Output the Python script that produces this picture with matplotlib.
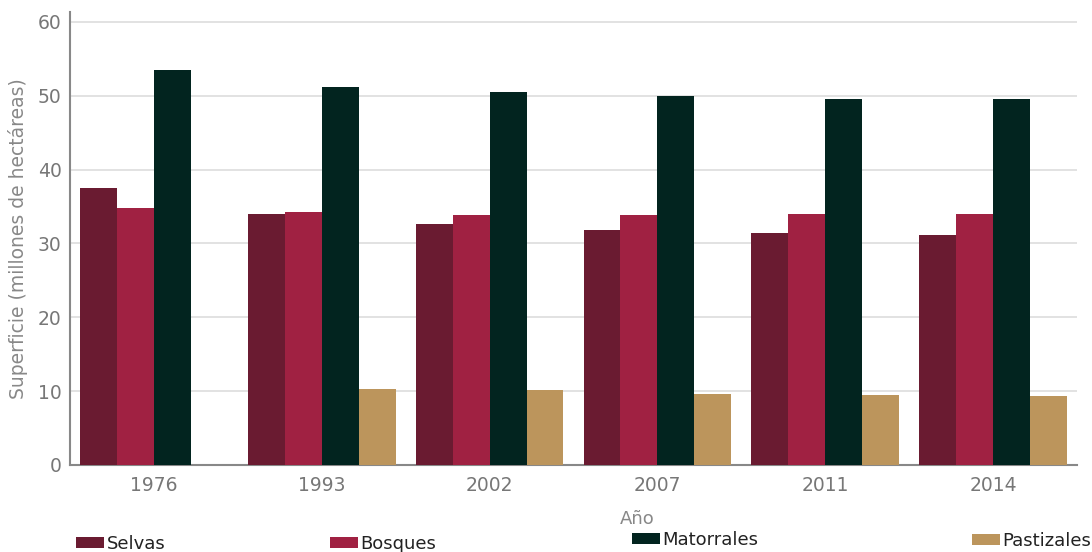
import matplotlib
matplotlib.use("Agg")
import matplotlib.pyplot as plt
import numpy as np

plt.rcParams['font.family'] = ['DejaVu Sans']

years = ["1976", "1993", "2002", "2007", "2011", "2014"]
series_names = ["Selvas", "Bosques", "Matorrales", "Pastizales"]
selvas = [37.5, 34.0, 32.7, 31.8, 31.4, 31.2]
bosques = [34.8, 34.3, 33.9, 33.9, 34.0, 34.0]
matorrales = [53.5, 51.2, 50.5, 50.0, 49.6, 49.6]
pastizales = [0.0, 10.3, 10.2, 9.6, 9.5, 9.35]
colors = ["#6a1b31", "#a02142", "#02241f", "#bc955c"]

fig = plt.figure(figsize=(10.92, 5.52), dpi=100)
ax = fig.add_axes([70 / 1092, 87 / 552, 1007 / 1092, 453 / 552])

x = np.arange(len(years))
group_w = 0.88
bar_w = group_w / 4
handles = []
for i, (vals, col) in enumerate(zip([selvas, bosques, matorrales, pastizales], colors)):
    offs = -group_w / 2 + bar_w * (i + 0.5)
    b = ax.bar(x + offs, vals, width=bar_w, color=col, linewidth=0, zorder=3)
    handles.append(b)

ax.set_xlim(-0.5, 5.5)
ax.set_ylim(0, 61.35)
ax.set_yticks([0, 10, 20, 30, 40, 50, 60])
ax.set_xticks(x)
ax.set_xticklabels(years)
ax.grid(axis='y', color='#dddddd', linewidth=1.2, zorder=0)
ax.tick_params(axis='both', colors='#777777', labelsize=13.5, length=0, pad=8)
ax.tick_params(axis='y', pad=6)
for s in ['top', 'right']:
    ax.spines[s].set_visible(False)
for s in ['left', 'bottom']:
    ax.spines[s].set_color('#888888')
    ax.spines[s].set_linewidth(1.5)

ax.set_ylabel("Superficie (millones de hectáreas)", fontsize=13.5, color='#888888')
ax.yaxis.set_label_coords(-0.042, 0.50)
ax.set_xlabel("Año", fontsize=13, color='#888888')
ax.xaxis.set_label_coords(0.563, -0.099)

# legend entries spread along the bottom
legend_pos = [(76, 544), (330, 544), (632, 540), (972, 541)]
for h, name, (px, py) in zip(handles, series_names, legend_pos):
    fig.legend([h], [name], loc='center left',
               bbox_to_anchor=(px / 1092, 1 - py / 552),
               frameon=False, fontsize=13, borderpad=0, borderaxespad=0,
               handlelength=1.55, handleheight=0.55, handletextpad=0.15,
               labelcolor='#222222')

fig.savefig("out.png", dpi=100)
